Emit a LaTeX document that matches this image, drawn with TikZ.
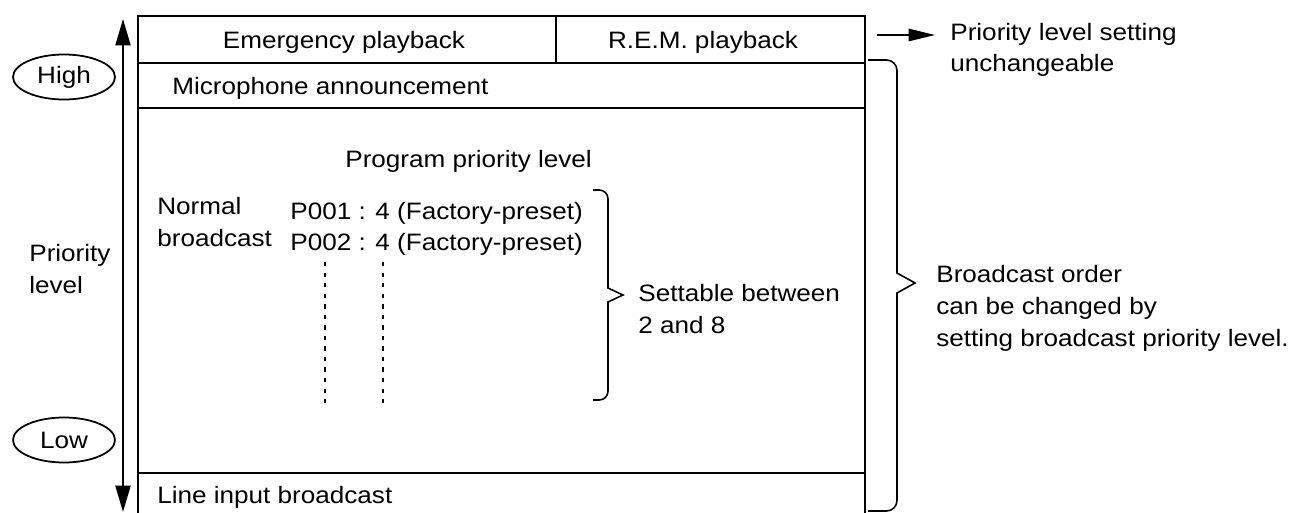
\documentclass[tikz,border=0pt]{standalone}
\usepackage{fontspec}
\setmainfont{Liberation Sans}[FakeStretch=1.1]
\usetikzlibrary{arrows.meta,shapes.geometric}

\begin{document}
\begin{tikzpicture}[x=0.02cm, y=-0.02cm,
    txt/.style={font=\fontsize{13.5}{18}\selectfont, inner sep=0pt, align=left},
    lvl/.style={draw, ellipse, line width=1pt, minimum width=2.04cm, minimum height=0.9cm,
                inner sep=0pt, font=\fontsize{13.5}{18}\selectfont},
    frame/.style={line width=1pt},
    bracket/.style={line width=0.9pt},
    arr/.style={line width=1.1pt, -{Triangle[length=15pt,width=7pt]}}]
    \useasboundingbox (0,0) rectangle (1294,513);

    % Priority axis
    \coordinate (hi) at (123,19);
    \coordinate (lo) at (123,512);
    \draw[line width=1.3pt, {Triangle[length=15pt,width=8.5pt]}-{Triangle[length=15pt,width=8.5pt]}] (lo) -- (hi);
    \node[lvl] (high) at (64,77) {High};
    \node[lvl] (low) at (64,440) {Low};
    \node[txt, anchor=base west] (axis) at (29,293) {Priority\\level};

    % Table frame
    \draw[frame] (138,513) -- (138,16) -- (865,16) -- (865,513);
    \draw[frame] (556,16) -- (556,63);
    \draw[frame] (138,63) -- (865,63);
    \draw[frame] (138,108) -- (865,108);
    \draw[frame] (138,473) -- (865,473);

    % Rows
    \node[txt, anchor=base] (emerg) at (344,49) {Emergency playback};
    \node[txt, anchor=base] (rem) at (703,49) {R.E.M. playback};
    \node[txt, anchor=base west] (mic) at (172,95) {Microphone announcement};
    \node[txt, anchor=base west] (prog) at (345,168) {Program priority level};
    \node[txt, anchor=base west] (normal) at (157,246) {Normal\\broadcast};
    \node[txt, anchor=base west] (p1) at (290,219) {P001 : 4 (Factory-preset)};
    \node[txt, anchor=base west] (p2) at (290,251) {P002 : 4 (Factory-preset)};
    \node[txt, anchor=base west] (line) at (157,503) {Line input broadcast};

    % Continuation marks
    \draw[line width=0.9pt, dash pattern=on 2.5pt off 3.5pt] (325,262) -- (325,403);
    \draw[line width=0.9pt, dash pattern=on 2.5pt off 3.5pt] (383,262) -- (383,403);

    % Settable range
    \draw[bracket] (593,190) [rounded corners=5pt] -- (608,190) -- (608,240) [sharp corners]
        -- (608,288) -- (623,295) -- (608,302) -- (608,350) [rounded corners=5pt] -- (608,400) -- (593,400);
    \node[txt, anchor=base west] (range) at (638,333) {Settable between\\2 and 8};

    % Fixed and changeable parts
    \coordinate (fix) at (877,35);
    \node[txt, anchor=base west] (fixnote) at (950,72) {Priority level setting\\unchangeable};
    \draw[arr, shorten >=0.3cm] (fix) -- (fix -| fixnote.west);
    \draw[bracket] (868,60) [rounded corners=6pt] -- (897,60) -- (897,200) [sharp corners]
        -- (897,273) -- (915,283) -- (897,293) -- (897,400) [rounded corners=6pt] -- (897,511) -- (868,511);
    \node[txt, anchor=base west] (order) at (936,346) {Broadcast order\\can be changed by\\setting broadcast priority level.};
\end{tikzpicture}
\end{document}
